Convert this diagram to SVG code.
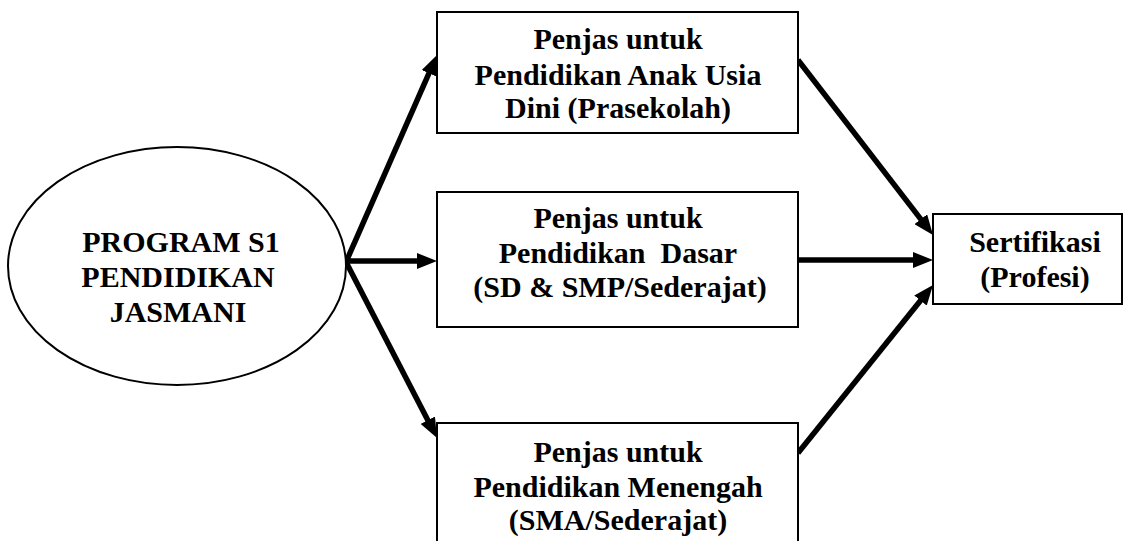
<svg xmlns="http://www.w3.org/2000/svg" width="1128" height="541" viewBox="0 0 1128 541">
<style>
.shape{fill:#fff;stroke:#000;stroke-width:2}
.t{font-family:"Liberation Serif","Times New Roman",serif;font-weight:bold;font-size:30px;fill:#000;text-anchor:middle}
.c{stroke:#000;stroke-width:5.5;fill:none}
</style>
<defs>
<marker id="ah" markerUnits="userSpaceOnUse" markerWidth="20" markerHeight="16" refX="11" refY="8" orient="auto" viewBox="0 0 20 16">
<path d="M0,0 L20,8 L0,16 z" fill="#000"/>
</marker>
</defs>
<rect width="1128" height="541" fill="#fff"/>
<g id="connectors">
<line class="c" x1="346" y1="262" x2="433.4" y2="63.2" marker-end="url(#ah)"/>
<line class="c" x1="346" y1="261" x2="428" y2="261" marker-end="url(#ah)"/>
<line class="c" x1="346" y1="262" x2="432.9" y2="430" marker-end="url(#ah)"/>
<line class="c" x1="798" y1="60" x2="927.5" y2="227.9" marker-end="url(#ah)"/>
<line class="c" x1="798" y1="260" x2="924" y2="260" marker-end="url(#ah)"/>
<line class="c" x1="798" y1="453" x2="927.4" y2="292" marker-end="url(#ah)"/>
</g>
<g id="program">
<ellipse class="shape" cx="177" cy="266" rx="169" ry="119"/>
<text class="t" x="181" y="252">PROGRAM S1</text>
<text class="t" x="178" y="287">PENDIDIKAN</text>
<text class="t" x="178" y="322">JASMANI</text>
</g>
<g id="paud">
<rect class="shape" x="437" y="12" width="361" height="121"/>
<text class="t" x="618" y="49">Penjas untuk</text>
<text class="t" x="618" y="85">Pendidikan Anak Usia</text>
<text class="t" x="618" y="118">Dini (Prasekolah)</text>
</g>
<g id="dasar">
<rect class="shape" x="437" y="192" width="361" height="135"/>
<text class="t" x="618" y="228">Penjas untuk</text>
<text class="t" x="618" y="263" xml:space="preserve">Pendidikan  Dasar</text>
<text class="t" x="620" y="297">(SD &amp; SMP/Sederajat)</text>
</g>
<g id="menengah">
<rect class="shape" x="437" y="423" width="361" height="130"/>
<text class="t" x="618" y="462">Penjas untuk</text>
<text class="t" x="618" y="497">Pendidikan Menengah</text>
<text class="t" x="618" y="530">(SMA/Sederajat)</text>
</g>
<g id="sertifikasi">
<rect class="shape" x="933" y="214" width="189" height="90"/>
<text class="t" x="1035" y="252">Sertifikasi</text>
<text class="t" x="1035" y="287">(Profesi)</text>
</g>
</svg>
